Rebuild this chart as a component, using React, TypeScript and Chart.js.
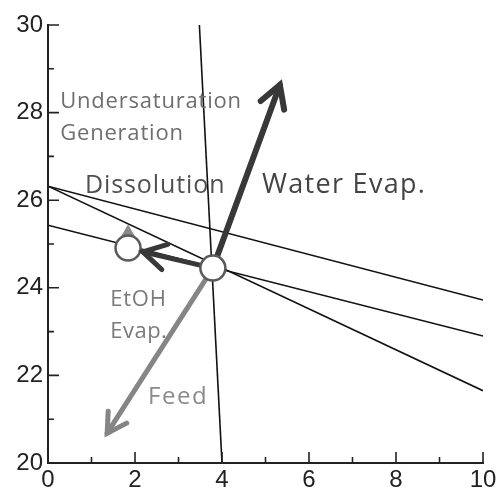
import React, { useEffect, useRef } from "react";
import { Chart, registerables } from "chart.js";

Chart.register(...registerables);

// Axis ranges and ticks
const xRange = [0, 10];
const yRange = [20, 30];
const majorStep = 2;
const minorStep = 1;

// Phase boundary lines
const verticalBoundary = [{ x: 3.48, y: 30 }, { x: 4.0, y: 20 }];
const upperBoundary = [{ x: 0, y: 26.32 }, { x: 10, y: 23.72 }];
const middleBoundary = [{ x: 0, y: 25.43 }, { x: 10, y: 22.9 }];
const lowerBoundary = [{ x: 0, y: 26.32 }, { x: 10, y: 21.65 }];

// Operating points
const operatingPoint = { x: 3.79, y: 24.45 };
const ethanolPoint = { x: 1.84, y: 24.91 };
const triangleMarker = { x: 1.84, y: 25.27 };

// Process direction arrows (start at operating point)
const waterEvapTip = { x: 5.33, y: 28.63 };
const feedTip = { x: 1.36, y: 20.68 };
const etohEvapTip = { x: 2.18, y: 24.82 };

// Region / arrow captions: text, anchor (left edge, vertical middle), size, spacing, colour
const captionTexts = ["Undersaturation", "Generation", "Dissolution", "Water Evap.", "EtOH", "Evap.", "Feed"];
const captionX = [0.28, 0.28, 0.85, 4.92, 1.43, 1.43, 2.3];
const captionY = [28.25, 27.52, 26.32, 26.35, 23.72, 22.99, 21.51];
const captionSize = [22, 22, 25, 27, 22, 22, 24];
const captionSpacing = [0.8, 0.8, 0.9, 1.3, 0.8, 0.5, 1.5];
const captionColor = ["#6e6e6e", "#6e6e6e", "#505050", "#444444", "#7a7a7a", "#7a7a7a", "#8a8a8a"];

const CAPTION_FONT = "'Open Sans', Lato, sans-serif";
const TICK_FONT = "'Liberation Sans', Arial, sans-serif";

const axisPlugin = {
  id: "phaseAxes",
  afterDraw(chart: any) {
    const { ctx, scales } = chart;
    const xs = scales.x;
    const ys = scales.y;
    const left = xs.getPixelForValue(xRange[0]);
    const right = xs.getPixelForValue(xRange[1]);
    const bottom = ys.getPixelForValue(yRange[0]);
    const top = ys.getPixelForValue(yRange[1]);
    ctx.save();
    ctx.strokeStyle = "#222";
    ctx.lineWidth = 2;
    ctx.lineCap = "square";
    ctx.beginPath();
    ctx.moveTo(left, top);
    ctx.lineTo(left, bottom);
    ctx.lineTo(right, bottom);
    ctx.stroke();
    ctx.lineWidth = 1.6;
    ctx.lineCap = "butt";
    ctx.beginPath();
    for (let v = xRange[0]; v <= xRange[1]; v += minorStep) {
      const px = xs.getPixelForValue(v);
      const len = v % majorStep === 0 ? 11 : 6;
      ctx.moveTo(px, bottom);
      ctx.lineTo(px, bottom - len);
    }
    for (let v = yRange[0]; v <= yRange[1]; v += minorStep) {
      const py = ys.getPixelForValue(v);
      const len = v % majorStep === 0 ? 11 : 6;
      ctx.moveTo(left, py);
      ctx.lineTo(left + len, py);
    }
    ctx.stroke();
    ctx.restore();
  },
};

const arrowHeadPlugin = {
  id: "arrowHeads",
  afterDatasetsDraw(chart: any) {
    const { ctx } = chart;
    chart.data.datasets.forEach((ds: any, i: number) => {
      if (!ds.arrowHead) return;
      const meta = chart.getDatasetMeta(i);
      const pts = meta.data;
      if (pts.length < 2) return;
      const a = pts[pts.length - 2];
      const b = pts[pts.length - 1];
      const ang = Math.atan2(b.y - a.y, b.x - a.x);
      const len = ds.arrowHead;
      const spread = (30 * Math.PI) / 180;
      ctx.save();
      ctx.strokeStyle = ds.borderColor;
      ctx.lineWidth = ds.borderWidth;
      ctx.lineCap = "round";
      ctx.lineJoin = "miter";
      ctx.beginPath();
      ctx.moveTo(b.x - len * Math.cos(ang - spread), b.y - len * Math.sin(ang - spread));
      ctx.lineTo(b.x, b.y);
      ctx.lineTo(b.x - len * Math.cos(ang + spread), b.y - len * Math.sin(ang + spread));
      ctx.stroke();
      ctx.restore();
    });
  },
};

const captionPlugin = {
  id: "captions",
  afterDatasetsDraw(chart: any) {
    const { ctx, scales } = chart;
    ctx.save();
    ctx.textAlign = "left";
    ctx.textBaseline = "middle";
    captionTexts.forEach((t, i) => {
      ctx.font = `${captionSize[i]}px ${CAPTION_FONT}`;
      (ctx as any).letterSpacing = `${captionSpacing[i]}px`;
      ctx.fillStyle = captionColor[i];
      ctx.fillText(t, scales.x.getPixelForValue(captionX[i]), scales.y.getPixelForValue(captionY[i]));
    });
    ctx.restore();
  },
};

function boundary(data: { x: number; y: number }[]) {
  return {
    type: "line" as const,
    data,
    borderColor: "#111",
    borderWidth: 1.6,
    pointRadius: 0,
    showLine: true,
    order: 3,
  };
}

function arrow(tip: { x: number; y: number }, color: string, width: number, head: number) {
  return {
    type: "line" as const,
    data: [operatingPoint, tip],
    borderColor: color,
    borderWidth: width,
    borderCapStyle: "round" as const,
    pointRadius: 0,
    showLine: true,
    arrowHead: head,
    order: 2,
  };
}

export default function App() {
  const canvasRef = useRef<HTMLCanvasElement | null>(null);

  useEffect(() => {
    if (!canvasRef.current) return;
    const chart = new Chart(canvasRef.current, {
      type: "scatter",
      data: {
        datasets: [
          boundary(verticalBoundary),
          boundary(upperBoundary),
          boundary(middleBoundary),
          boundary(lowerBoundary),
          arrow(waterEvapTip, "#383838", 6, 25),
          arrow(etohEvapTip, "#383838", 5, 26),
          arrow(feedTip, "#858585", 5, 22),
          {
            data: [triangleMarker],
            pointStyle: "triangle",
            pointRadius: 7,
            backgroundColor: "#8a8a8a",
            borderColor: "#8a8a8a",
            borderWidth: 1,
            order: 1,
          },
          {
            data: [operatingPoint, ethanolPoint],
            pointStyle: "circle",
            pointRadius: 12.5,
            backgroundColor: "#ffffff",
            borderColor: "#5a5a5a",
            borderWidth: 2.5,
            order: 0,
          },
        ] as any,
      },
      options: {
        responsive: false,
        animation: false,
        events: [],
        layout: { padding: { top: 25, right: 19, left: 0, bottom: 0 } },
        plugins: { legend: { display: false }, tooltip: { enabled: false } },
        scales: {
          x: {
            type: "linear",
            min: xRange[0],
            max: xRange[1],
            grid: { display: false, drawTicks: false },
            border: { display: false },
            ticks: { stepSize: majorStep, color: "#222", font: { family: TICK_FONT, size: 24 }, padding: 3 },
            afterFit(scale: any) {
              scale.height = 29;
            },
          },
          y: {
            type: "linear",
            min: yRange[0],
            max: yRange[1],
            grid: { display: false, drawTicks: false },
            border: { display: false },
            ticks: { stepSize: majorStep, color: "#222", font: { family: TICK_FONT, size: 24 }, padding: 5 },
            afterFit(scale: any) {
              scale.width = 48;
            },
          },
        },
      },
      plugins: [axisPlugin, arrowHeadPlugin, captionPlugin],
    });
    return () => chart.destroy();
  }, []);

  return (
    <div style={{ position: "fixed", left: 0, top: 0, width: 502, height: 492, background: "#fff" }}>
      <canvas ref={canvasRef} width={502} height={492} style={{ display: "block" }} />
    </div>
  );
}
